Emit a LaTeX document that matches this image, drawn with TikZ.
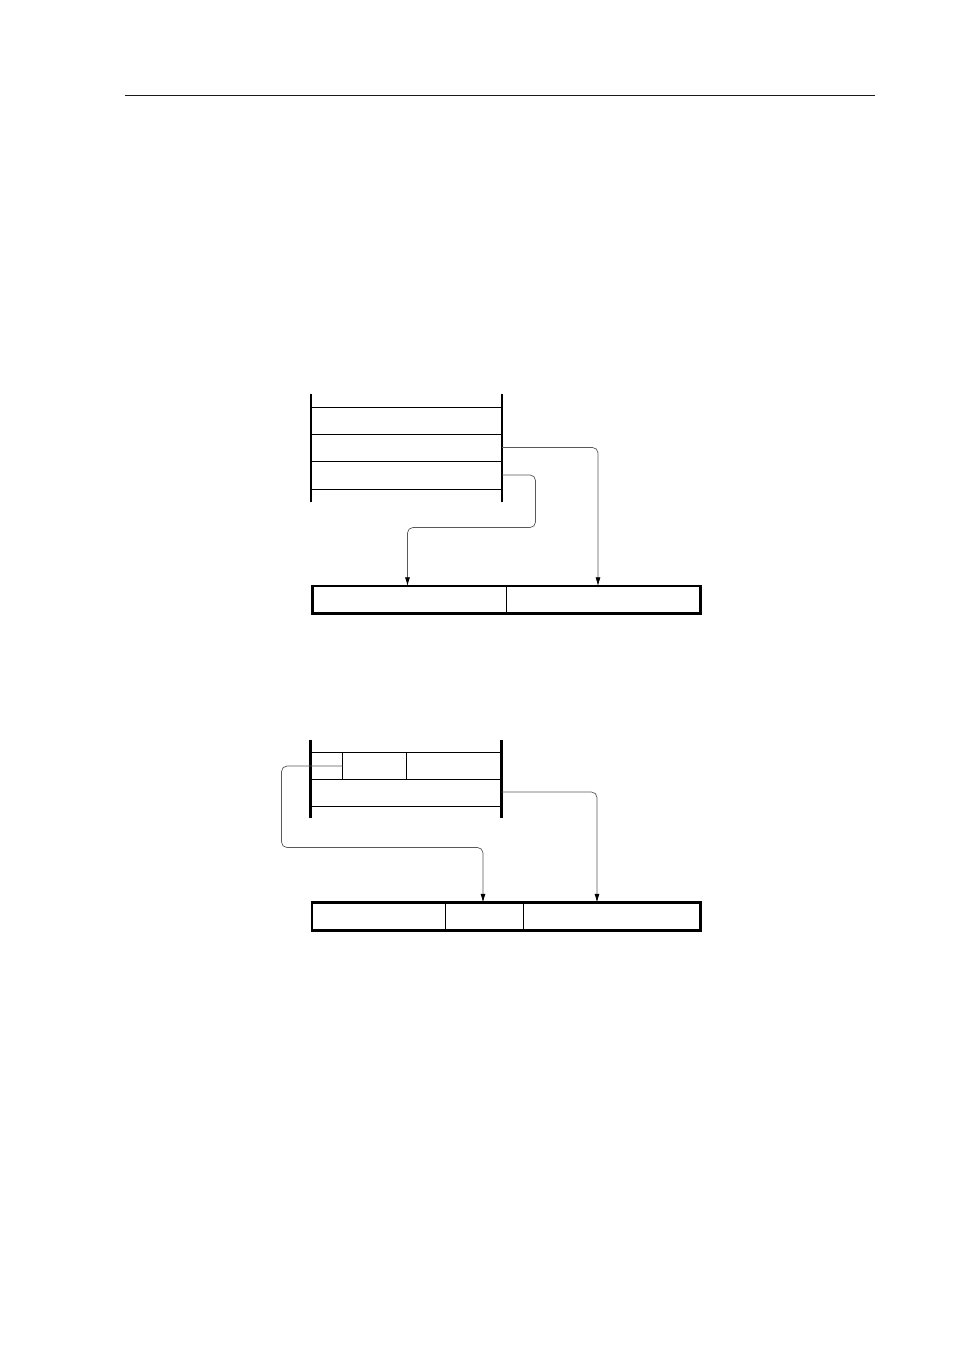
\documentclass[tikz,border=0pt]{standalone}
\usetikzlibrary{arrows.meta}
\begin{document}
\begin{tikzpicture}[x=0.2201mm,y=-0.2201mm,
  bar/.style={line width=1.4pt,black},
  rowline/.style={line width=0.65pt,black},
  cell/.style={line width=1.4pt,black},
  celldiv/.style={line width=0.6pt,black},
  link/.style={line width=0.45pt,black!65,rounded corners=1.2mm,
    -{Latex[length=1.9mm,width=1.1mm,black]}}]
\useasboundingbox (0,0) rectangle (954,1351);
% header rule
\draw[line width=0.5pt,black!90] (125,95.5) -- (875,95.5);

% ---------- top diagram ----------
\coordinate (aTL) at (311,394);
\coordinate (aBL) at (311,502);
\coordinate (aTR) at (502,394);
\coordinate (aBR) at (502,502);
\draw[bar] (aTL) -- (aBL);
\draw[bar] (aTR) -- (aBR);
\foreach \yy in {407.5,434.5,461.5,489.5}
  \draw[rowline] (311,\yy) -- (502,\yy);
\coordinate (aS1) at (502,447.5);
\coordinate (aS2) at (502,475);
% bottom box
\coordinate (bA) at (312.5,586);
\coordinate (bB) at (700.5,613.5);
\draw[cell] (bA) rectangle (bB);
\draw[celldiv] (506.5,586) -- (506.5,613.5);
\coordinate (bT1) at (598,586);
\coordinate (bT2) at (407.5,586);
\draw[link] (aS1) -- (598,447.5) -- (bT1);
\draw[link] (aS2) -- (535.5,475) -- (535.5,527.5) -- (407.5,527.5) -- (bT2);

% ---------- bottom diagram ----------
\coordinate (cTL) at (310.5,739.5);
\coordinate (cBL) at (310.5,817.5);
\coordinate (cTR) at (501.5,739.5);
\coordinate (cBR) at (501.5,817.5);
\draw[bar] (cTL) -- (cBL);
\draw[bar] (cTR) -- (cBR);
\foreach \yy in {752.5,779.5,806.5}
  \draw[rowline] (310.5,\yy) -- (501.5,\yy);
\draw[celldiv] (342.5,752.5) -- (342.5,779.5);
\draw[rowline] (406.5,752.5) -- (406.5,779.5);
\coordinate (cS1) at (342.5,766);
\coordinate (cS2) at (501.5,792);
% bottom box
\coordinate (dA) at (312,902.5);
\coordinate (dB) at (700.5,930.5);
\draw[cell] (dA) rectangle (dB);
\draw[celldiv] (445.5,902.5) -- (445.5,930.5);
\draw[celldiv] (523.5,902.5) -- (523.5,930.5);
\coordinate (dT1) at (483,902.5);
\coordinate (dT2) at (597,902.5);
\draw[link] (cS1) -- (281.5,766) -- (281.5,847.5) -- (483,847.5) -- (dT1);
\draw[link] (cS2) -- (597,792) -- (dT2);
\end{tikzpicture}
\end{document}
